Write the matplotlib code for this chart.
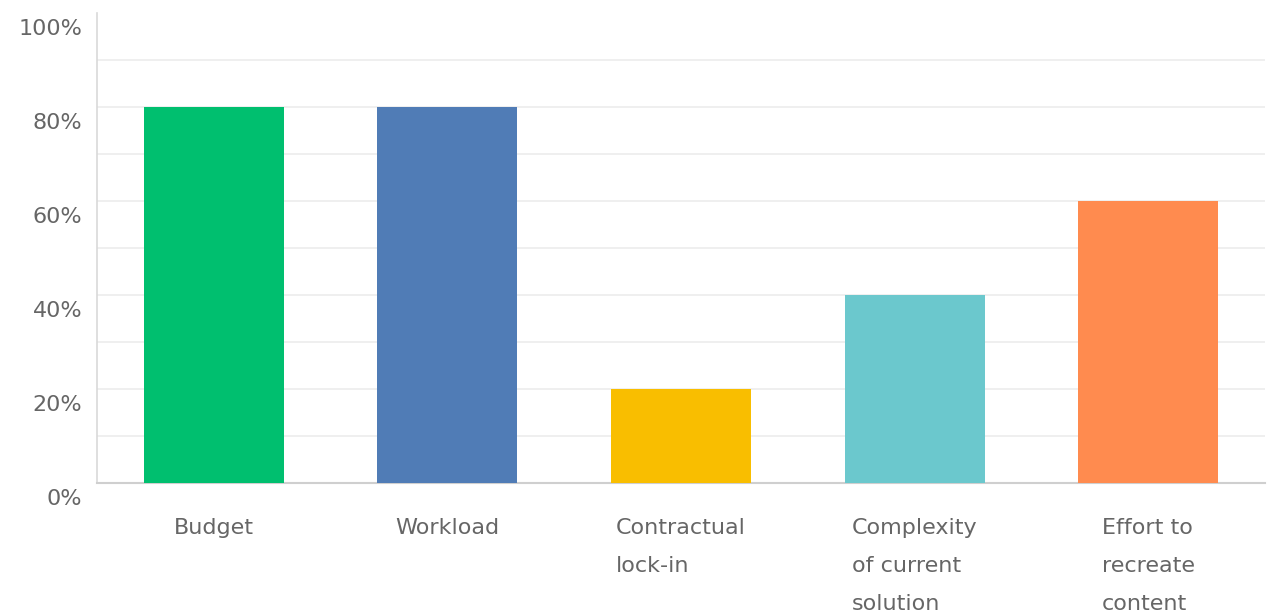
import matplotlib.pyplot as plt
import matplotlib.transforms as mtransforms

categories = ["Budget", "Workload", "Contractual\nlock-in",
              "Complexity\nof current\nsolution", "Effort to\nrecreate\ncontent"]
values = [80, 80, 20, 40, 60]
colors = ["#00BF6F", "#507CB6", "#F9BE00", "#6BC8CD", "#FF8B4F"]
y_ticks = [0, 20, 40, 60, 80, 100]

fig = plt.figure(figsize=(12.77, 6.16), dpi=100)
ax = fig.add_axes([97 / 1277, 1 - 483 / 616, 1168 / 1277, 470 / 616])

x = list(range(len(values)))
ax.bar(x, values, width=0.6, color=colors, zorder=3)

ax.set_xlim(-0.5, len(values) - 0.5)
ax.set_ylim(0, 100)

# grid lines every 10%, none at the very top
ax.set_yticks(y_ticks)
ax.set_yticklabels([f"{v}%" for v in y_ticks])
ax.tick_params(axis="y", length=0, pad=10.5, labelsize=16, labelcolor="#666666")
for g in range(10, 100, 10):
    ax.axhline(g, color="#ececec", linewidth=1.2, zorder=0)

ax.set_xticks(x)
ax.set_xticklabels(categories, linespacing=2.12, multialignment="left")
ax.tick_params(axis="x", length=0, pad=25, labelsize=16, labelcolor="#666666")

# y labels sit a bit below their gridline
offset = mtransforms.ScaledTranslation(0, -14 / 100, fig.dpi_scale_trans)
for lab in ax.get_yticklabels():
    lab.set_transform(lab.get_transform() + offset)

for side in ["top", "right"]:
    ax.spines[side].set_visible(False)
ax.spines["left"].set_color("#d9d9d9")
ax.spines["bottom"].set_color("#cfcfcf")
ax.spines["left"].set_linewidth(1.2)
ax.spines["bottom"].set_linewidth(1.5)

fig.savefig("out.png", dpi=100)
